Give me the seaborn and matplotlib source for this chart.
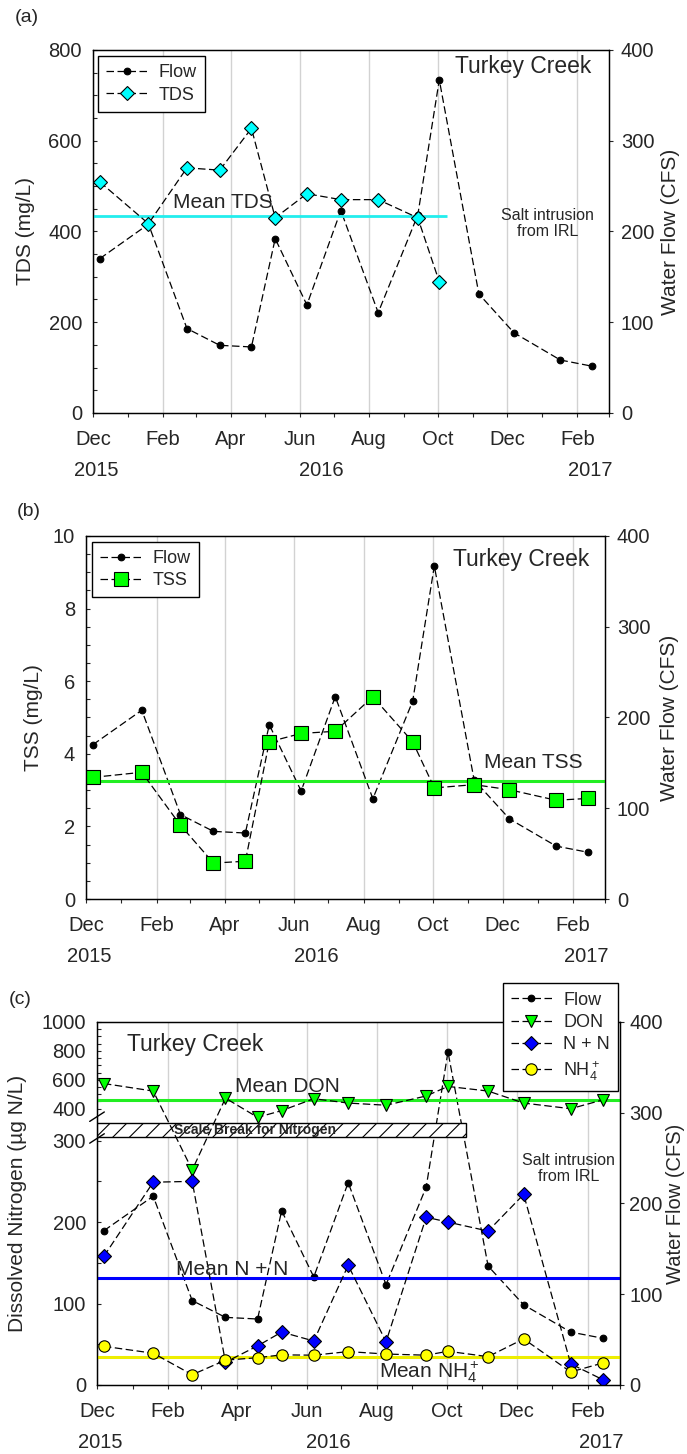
import numpy as np
import pandas as pd
import matplotlib
matplotlib.use("Agg")
import matplotlib.pyplot as plt
import matplotlib.dates as mdates
from matplotlib.ticker import FixedLocator, MultipleLocator
import seaborn as sns

# ---------------- data ----------------
sample_dates = ["2015-12-07", "2016-01-19", "2016-02-22", "2016-03-22", "2016-04-19",
                "2016-05-10", "2016-06-07", "2016-07-07", "2016-08-09", "2016-09-13",
                "2016-10-02", "2016-11-06", "2016-12-07", "2017-01-17", "2017-02-14"]
flow_cfs = [170, 208, 93, 74.5, 72.7, 192, 119, 223, 110.5, 218, 367, 131, 88.3, 58.3, 51.5]
tds_mgl = [509, 417, 540, 535, 627, 430, 483, 470, 470, 430, 289]
tss_mgl = [3.35, 3.49, 2.03, 0.99, 1.04, 4.33, 4.56, 4.62, 5.57, 4.33, 3.06, 3.15, 3.01, 2.72, 2.77]
don_ugl = [574, 522, 264, 473, 373, 394, 469, 439, 424, 488, 554, 522, 439, 400, 461]
nn_ugl = [158, 249, 250, 28, 48, 65, 54, 147, 53, 206, 200, 189, 234, 26, 6.5]
nh4_ugl = [47.5, 39, 12.6, 30.5, 33.5, 37, 36.6, 41, 38, 36.6, 41.4, 34.8, 56.6, 16, 27]
mean_tds = 434
mean_tss = 3.24
mean_don = 461
mean_nn = 131.5
mean_nh4 = 34.4
year_labels = ["2015", "2016", "2017"]
station = "Turkey Creek"

dates = pd.to_datetime(sample_dates)
x_start, x_end = pd.Timestamp("2015-12-01"), pd.Timestamp("2017-03-01")

# ---------------- style ----------------
sns.set_theme(style="ticks")
plt.rcParams["font.family"] = ["Liberation Sans", "DejaVu Sans"]
plt.rcParams["mathtext.fontset"] = "custom"
plt.rcParams["mathtext.rm"] = "Liberation Sans"
plt.rcParams["mathtext.it"] = "Liberation Sans:italic"
plt.rcParams["mathtext.default"] = "regular"
plt.rcParams["hatch.linewidth"] = 0.8

TICK_FS = 14.5
LAB_FS = 15
LEG_FS = 13
DASH = (0, (6, 2.8))
LW = 0.9

fig = plt.figure(figsize=(6.87, 14.54), dpi=100)


def series(ax, y, marker, ms, fc, n=None):
    xs = dates if n is None else dates[:n]
    sns.lineplot(x=xs, y=y, ax=ax, color="black", marker=marker, markersize=ms,
                 markerfacecolor=fc, markeredgecolor="black", markeredgewidth=0.8,
                 linewidth=LW, linestyle=DASH, estimator=None, sort=False, legend=False)
    return ax.lines[-1]


def setup(ax, axr, left_label, left_x, right_x, rpad=6.0, rfs=LAB_FS, year_y=-0.158):
    ax.set_xlim(x_start, x_end)
    ax.xaxis.set_major_locator(mdates.MonthLocator(bymonth=[2, 4, 6, 8, 10, 12]))
    ax.xaxis.set_minor_locator(mdates.MonthLocator())
    ax.xaxis.set_major_formatter(mdates.DateFormatter("%b"))
    ax.tick_params(axis="x", which="major", direction="out", length=3, width=0.8,
                   labelsize=TICK_FS, pad=9, bottom=True, top=False)
    ax.tick_params(axis="x", which="minor", direction="out", length=2.6, width=0.8,
                   bottom=True, top=False)
    ax.tick_params(axis="y", which="both", direction="in", length=2.8, width=0.8,
                   labelsize=TICK_FS, pad=8, left=True, right=False)
    axr.set_ylim(0, 400)
    axr.yaxis.set_major_locator(FixedLocator([0, 100, 200, 300, 400]))
    axr.tick_params(axis="y", which="major", direction="out", length=2.6, width=0.8,
                    labelsize=TICK_FS, pad=rpad, right=True, left=False)
    for a in (ax, axr):
        for s in a.spines.values():
            s.set_color("black")
            s.set_linewidth(0.9)
            s.set_visible(True)
        a.set_xlabel("")
        a.set_ylabel("")
    # vertical grid on the lower (right-axis) layer so it stays behind everything
    for t in ax.get_xticks():
        axr.axvline(t, color="#d2d2d2", lw=1.0, zorder=0)
    ax.set_zorder(axr.get_zorder() + 1)
    ax.patch.set_visible(False)
    ax.text(left_x, 0.5, left_label, rotation=90, ha="center", va="center",
            fontsize=LAB_FS, transform=ax.transAxes)
    ax.text(right_x, 0.5, "Water Flow (CFS)", rotation=90, ha="center", va="center",
            fontsize=rfs, transform=ax.transAxes)
    for xf, yl in zip([0.007, 0.443, 0.964], year_labels):
        ax.text(xf, year_y, yl, ha="center", va="center", fontsize=TICK_FS,
                transform=ax.transAxes)


def legend(ax, handles, labels, **kw):
    leg = ax.legend(handles, labels, fontsize=LEG_FS, frameon=True, fancybox=False,
                    edgecolor="black", framealpha=1, handlelength=2.3, handletextpad=0.6,
                    borderpad=0.45, labelspacing=0.3, borderaxespad=0, **kw)
    leg.get_frame().set_linewidth(1.0)
    leg.set_zorder(10)
    return leg


# ---------------- panel (a) ----------------
axa = fig.add_axes([0.1354, 0.7160, 0.7511, 0.2497])
axa_r = axa.twinx()
h_flow_a = series(axa_r, flow_cfs, "o", 4.8, "black")
h_tds = series(axa, tds_mgl, "D", 6.8, "#00FFFF", n=len(tds_mgl))
axa.hlines(mean_tds, x_start, pd.Timestamp("2016-10-09"), color="#22EEEE", lw=2.0, zorder=1.5)
axa.set_ylim(0, 800)
axa.yaxis.set_major_locator(MultipleLocator(200))
axa.yaxis.set_minor_locator(MultipleLocator(50))
setup(axa, axa_r, "TDS (mg/L)", -0.130, 1.120)
axa.text(0.965, 0.953, station, ha="right", va="center", fontsize=16.5, transform=axa.transAxes)
axa.text(0.155, 0.5785, "Mean TDS", ha="left", va="center", fontsize=LAB_FS, transform=axa.transAxes)
axa.text(0.881, 0.522, "Salt intrusion\nfrom IRL", ha="center", va="center", fontsize=11.5,
         linespacing=1.05, transform=axa.transAxes)
legend(axa, [h_flow_a, h_tds], ["Flow", "TDS"], loc="upper left", bbox_to_anchor=(0.0097, 0.983))

# ---------------- panel (b) ----------------
axb = fig.add_axes([0.1252, 0.3817, 0.7555, 0.2497])
axb_r = axb.twinx()
h_flow_b = series(axb_r, flow_cfs, "o", 4.8, "black")
h_tss = series(axb, tss_mgl, "s", 9.5, "#00FF00")
axb.axhline(mean_tss, color="#22EE22", lw=2.2, zorder=1.5)
axb.set_ylim(0, 10)
axb.yaxis.set_major_locator(MultipleLocator(2))
axb.yaxis.set_minor_locator(MultipleLocator(0.5))
setup(axb, axb_r, "TSS (mg/L)", -0.102, 1.125)
axb.text(0.969, 0.934, station, ha="right", va="center", fontsize=16.5, transform=axb.transAxes)
axb.text(0.767, 0.375, "Mean TSS", ha="left", va="center", fontsize=LAB_FS, transform=axb.transAxes)
legend(axb, [h_flow_b, h_tss], ["Flow", "TSS"], loc="upper left", bbox_to_anchor=(0.0116, 0.984))

# ---------------- panel (c) : broken nitrogen axis ----------------
B1, B2, TOP = 300.0, 400.0, 1000.0
F1, F2 = 0.673, 0.761


def fwd(v):
    v = np.asarray(v, dtype=float)
    return np.where(v <= B1, v * F1 / B1,
                    np.where(v <= B2, F1 + (v - B1) * (F2 - F1) / (B2 - B1),
                             F2 + (v - B2) * (1 - F2) / (TOP - B2)))


def inv(u):
    u = np.asarray(u, dtype=float)
    return np.where(u <= F1, u * B1 / F1,
                    np.where(u <= F2, B1 + (u - F1) * (B2 - B1) / (F2 - F1),
                             B2 + (u - F2) * (TOP - B2) / (1 - F2)))


axc = fig.add_axes([0.1412, 0.04746, 0.7613, 0.2497])
axc_r = axc.twinx()
h_flow_c = series(axc_r, flow_cfs, "o", 4.8, "black")
h_don = series(axc, don_ugl, "v", 9.0, "#00FF00")
h_nn = series(axc, nn_ugl, "D", 7.4, "#0000FF")
h_nh4 = series(axc, nh4_ugl, "o", 8.2, "#FFFF00")
axc.axhline(mean_don, color="#22EE22", lw=2.2, zorder=1.5)
axc.axhline(mean_nn, color="#0000FF", lw=2.2, zorder=1.5)
axc.axhline(mean_nh4, color="#EEEE00", lw=2.2, zorder=1.5)
axc.set_yscale("function", functions=(fwd, inv))
axc.set_ylim(0, 1000)
axc.yaxis.set_major_locator(FixedLocator([0, 100, 200, 300, 400, 600, 800, 1000]))
axc.yaxis.set_minor_locator(FixedLocator([50, 150, 250, 450, 500, 550, 650, 700, 750,
                                          850, 900, 950]))
axc.yaxis.set_major_formatter(matplotlib.ticker.FuncFormatter(lambda v, p: f"{v:.0f}"))
axc.yaxis.set_minor_formatter(matplotlib.ticker.NullFormatter())
setup(axc, axc_r, "Dissolved Nitrogen (µg N/L)", -0.152, 1.107, rpad=4.2, rfs=14.5)
axc.axhspan(312, 356.5, xmin=0, xmax=0.7055, facecolor="white", edgecolor="black",
            hatch="//", lw=1.0, zorder=1.2)
axc.text(0.303, 0.703, "Scale Break for Nitrogen", ha="center", va="center", fontsize=10,
         fontweight="bold", transform=axc.transAxes, zorder=1.3)
for yc in (0.739, 0.679):
    axc.plot([-0.014, 0.014], [yc - 0.013, yc + 0.013], color="black", lw=1.0,
             transform=axc.transAxes, clip_on=False, zorder=5)
axc.text(0.0566, 0.937, station, ha="left", va="center", fontsize=16.5, transform=axc.transAxes)
axc.text(0.264, 0.8226, "Mean DON", ha="left", va="center", fontsize=LAB_FS, transform=axc.transAxes)
axc.text(0.1507, 0.3187, "Mean N + N", ha="left", va="center", fontsize=LAB_FS, transform=axc.transAxes)
axc.text(0.539, 0.035, "Mean NH$_4^+$", ha="left", va="center", fontsize=LAB_FS, transform=axc.transAxes)
axc.text(0.901, 0.596, "Salt intrusion\nfrom IRL", ha="center", va="center", fontsize=11.5,
         linespacing=1.05, transform=axc.transAxes)
legend(axc, [h_flow_c, h_don, h_nn, h_nh4], ["Flow", "DON", "N + N", "NH$_4^+$"],
       loc="upper right", bbox_to_anchor=(0.996, 1.106))

# panel letters
fig.text(15 / 687, 1 - 17 / 1454, "(a)", ha="left", va="center", fontsize=14)
fig.text(17 / 687, 1 - 511 / 1454, "(b)", ha="left", va="center", fontsize=14)
fig.text(9 / 687, 1 - 999 / 1454, "(c)", ha="left", va="center", fontsize=14)

fig.savefig("out.png", dpi=100)
